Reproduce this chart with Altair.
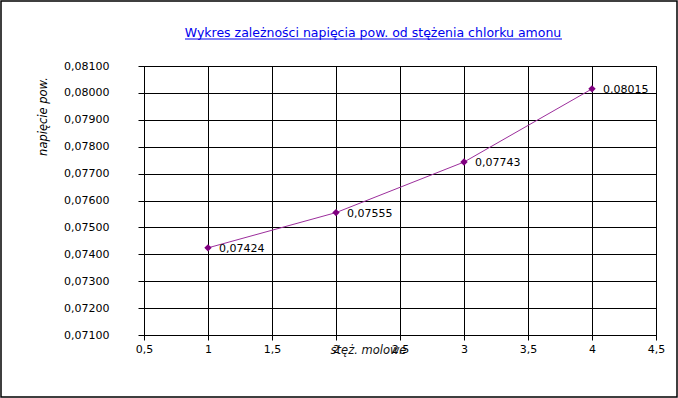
import altair as alt
import pandas as pd

conc = [1, 2, 3, 4]
voltage = [0.07424, 0.07555, 0.07743, 0.08015]
labels = ["0,07424", "0,07555", "0,07743", "0,08015"]
x_ticks = [0.5, 1, 1.5, 2, 2.5, 3, 3.5, 4, 4.5]
y_ticks = [0.071, 0.072, 0.073, 0.074, 0.075, 0.076, 0.077, 0.078, 0.079, 0.080, 0.081]

df = pd.DataFrame({"x": conc, "y": voltage, "label": labels})

FONT = "DejaVu Sans"
W, H = 512, 269
PL, PT = 144, 66

xs = alt.Scale(domain=[0.5, 4.5], nice=False, zero=False)
ys = alt.Scale(domain=[0.071, 0.081], nice=False, zero=False)

xaxis = alt.Axis(
    title="stęż. molowe", values=x_ticks,
    labelExpr="replace(format(datum.value, '~g'), '.', ',')",
    grid=True, gridColor="black", gridOpacity=1, domainColor="black",
    tickColor="black", tickSize=5, labelPadding=3, labelFont=FONT, labelFontSize=11,
    labelColor="black", labelFlush=False, labelOverlap=False,
    titleFont=FONT, titleFontSize=11.5, titleFontStyle="italic", titleFontWeight="normal",
    titleColor="#111111", titleX=224, titleY=15, titleBaseline="middle", titleAnchor="start",
    titleAlign="center")
yaxis = alt.Axis(
    title="napięcie pow.", values=y_ticks,
    labelExpr="replace(format(datum.value, '.5f'), '.', ',')",
    grid=True, gridColor="black", gridOpacity=1, domainColor="black",
    tickColor="black", tickSize=6, labelPadding=29, labelFont=FONT, labelFontSize=11,
    labelColor="black", labelOverlap=False, labelFlush=False,
    titleFont=FONT, titleFontSize=11.5, titleFontStyle="italic", titleFontWeight="normal",
    titleColor="black", titleX=-101, titleY=50, titleBaseline="middle", titleAngle=-90,
    titleAlign="center")

xenc = alt.X("x:Q", scale=xs, axis=xaxis)
yenc = alt.Y("y:Q", scale=ys, axis=yaxis)

base = alt.Chart(df)
line = base.mark_line(color="#9c2e9c", strokeWidth=1).encode(x=xenc, y=yenc)
pts = base.mark_point(shape="diamond", filled=True, color="#800080", size=55, opacity=1).encode(x=xenc, y=yenc)
txt = base.mark_text(align="left", dx=11, dy=1, font=FONT, fontSize=11, color="black").encode(
    x=xenc, y=yenc, text="label:N")

title = alt.Chart(pd.DataFrame({"t": ["Wykres zależności napięcia pow. od stężenia chlorku amonu"]})).mark_text(
    font=FONT, fontSize=12.5, color="#0000ee", align="center", baseline="middle").encode(
    x=alt.value(229), y=alt.value(-33), text="t:N")
underline = alt.Chart(pd.DataFrame({"a": [0]})).mark_rule(color="#0000ee", strokeWidth=1).encode(
    x=alt.value(41), x2=alt.value(418), y=alt.value(-27))
border = alt.Chart(pd.DataFrame({"a": [0]})).mark_rect(fill=None, stroke="black", strokeWidth=1.5).encode(
    x=alt.value(-PL + 1), x2=alt.value(678 - PL - 1), y=alt.value(-PT + 1), y2=alt.value(398 - PT - 1))

chart = alt.layer(line, pts, txt, title, underline, border).properties(
    width=W, height=H, autosize=alt.AutoSizeParams(type="none"),
    padding={"left": PL, "top": PT, "right": 678 - PL - W, "bottom": 398 - PT - H},
    background="white"
).configure_view(stroke="black", strokeWidth=1)

chart.save("out.html", embed_options={"renderer": "svg", "actions": False})
